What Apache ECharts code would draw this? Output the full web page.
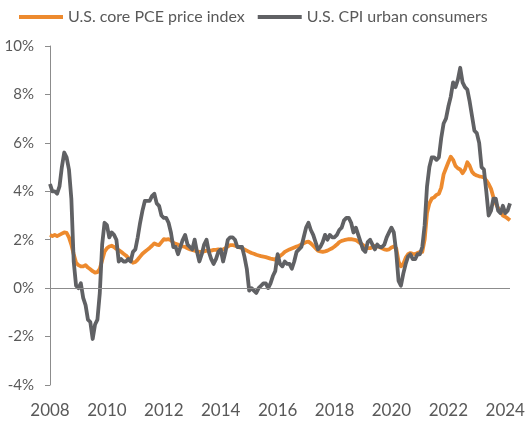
<!DOCTYPE html>
<html>
<head>
<meta charset="utf-8">
<script src="https://cdn.jsdelivr.net/npm/echarts@6/dist/echarts.min.js"></script>
<style>
html,body{margin:0;padding:0;background:#fff;}
#chart{width:531px;height:431px;}
</style>
</head>
<body>
<div id="chart"></div>
<script>
// Monthly, Jan 2008 .. Mar 2024
const startYear = 2008;
const yTicks = ['-4%','-2%','0%','2%','4%','6%','8%','10%'];
const xTickYears = ['2008','2010','2012','2014','2016','2018','2020','2022','2024'];

const corePCE = [
  2.2,2.15,2.2,2.15,2.2,2.25,2.3,2.28,2.1,1.8,1.4,1.05,
  0.95,0.9,0.9,0.95,0.85,0.78,0.7,0.64,0.66,0.8,1.15,1.5,
  1.65,1.72,1.75,1.7,1.62,1.57,1.5,1.42,1.35,1.25,1.15,1.05,
  1.08,1.18,1.3,1.42,1.5,1.58,1.66,1.75,1.85,1.8,1.78,1.9,
  2.02,2.0,2.02,1.98,1.88,1.83,1.8,1.74,1.72,1.7,1.65,1.6,
  1.58,1.55,1.52,1.5,1.5,1.52,1.55,1.55,1.55,1.58,1.58,1.6,
  1.58,1.6,1.65,1.72,1.78,1.78,1.75,1.72,1.68,1.65,1.6,1.55,
  1.5,1.45,1.42,1.38,1.35,1.32,1.3,1.28,1.25,1.22,1.2,1.18,
  1.28,1.33,1.4,1.5,1.55,1.6,1.64,1.68,1.72,1.75,1.8,1.85,
  1.9,1.92,1.85,1.75,1.65,1.55,1.52,1.5,1.52,1.55,1.6,1.65,
  1.72,1.8,1.9,1.95,1.98,2.0,2.02,2.02,2.0,1.98,1.92,1.85,
  1.78,1.7,1.65,1.65,1.7,1.74,1.72,1.7,1.65,1.6,1.58,1.6,
  1.68,1.72,1.65,1.1,0.9,1.0,1.25,1.4,1.45,1.42,1.4,1.45,
  1.5,1.5,2.0,3.1,3.5,3.7,3.75,3.85,3.9,4.15,4.7,4.95,
  5.2,5.43,5.3,5.05,4.95,4.9,4.75,4.9,5.2,5.05,4.8,4.7,
  4.65,4.62,4.6,4.57,4.45,4.3,4.1,3.75,3.5,3.3,3.15,3.0,
  2.95,2.88,2.8
];

const cpi = [
  4.3,4.0,4.0,3.9,4.2,5.0,5.6,5.4,4.9,3.7,1.1,0.1,
  0.0,0.2,-0.4,-0.7,-1.3,-1.4,-2.1,-1.5,-1.3,-0.2,1.8,2.7,
  2.6,2.1,2.3,2.2,2.0,1.1,1.2,1.1,1.1,1.2,1.1,1.5,
  1.6,2.1,2.7,3.2,3.6,3.6,3.6,3.8,3.9,3.5,3.4,3.0,
  2.9,2.9,2.7,2.3,1.7,1.7,1.4,1.7,2.0,2.2,1.8,1.7,
  1.6,2.0,1.5,1.1,1.4,1.8,2.0,1.5,1.2,1.0,1.2,1.5,
  1.6,1.1,1.5,2.0,2.1,2.1,2.0,1.7,1.7,1.7,1.3,0.8,
  -0.1,0.0,-0.1,-0.2,0.0,0.1,0.2,0.2,0.0,0.2,0.5,0.7,
  1.4,1.0,0.9,1.1,1.0,1.0,0.8,1.1,1.5,1.6,1.7,2.1,
  2.5,2.7,2.4,2.2,1.9,1.6,1.7,1.9,2.2,2.0,2.2,2.1,
  2.1,2.2,2.4,2.5,2.8,2.9,2.9,2.7,2.3,2.5,2.2,1.9,
  1.6,1.5,1.9,2.0,1.8,1.6,1.8,1.7,1.7,1.8,2.1,2.3,
  2.5,2.3,1.5,0.3,0.1,0.6,1.0,1.3,1.4,1.2,1.2,1.4,
  1.4,1.7,2.6,4.2,5.0,5.4,5.4,5.3,5.4,6.2,6.8,7.0,
  7.5,7.9,8.5,8.3,8.6,9.1,8.5,8.3,8.2,7.7,7.1,6.5,
  6.4,6.0,5.0,4.9,4.0,3.0,3.2,3.7,3.7,3.2,3.1,3.4,
  3.1,3.2,3.5
];

const months = [];
for (let i = 0; i < cpi.length; i++) {
  const y = startYear + Math.floor(i / 12);
  const m = (i % 12) + 1;
  months.push(y + '-' + (m < 10 ? '0' + m : m));
}

const textColor = '#595959';
const fontFam = 'Lato, "Open Sans", sans-serif';

const chart = echarts.init(document.getElementById('chart'), null, {renderer: 'canvas'});
chart.setOption({
  animation: false,
  backgroundColor: '#fff',
  legend: {
    left: 14, top: 4,
    icon: 'rect',
    itemWidth: 44, itemHeight: 4,
    itemGap: 13,
    textStyle: {color: textColor, fontSize: 16, fontFamily: fontFam},
    data: ['U.S. core PCE price index', 'U.S. CPI urban consumers']
  },
  grid: {left: 50, right: 21, top: 46, bottom: 46, containLabel: false},
  xAxis: {
    type: 'category',
    data: months,
    boundaryGap: false,
    axisLine: {show: false, onZero: false},
    axisTick: {show: false},
    axisLabel: {
      interval: function (idx) { return idx % 24 === 0; },
      formatter: function (v) {
        const y = v.slice(0, 4);
        return xTickYears.indexOf(y) >= 0 ? y : '';
      },
      color: textColor, fontSize: 17, fontFamily: fontFam, margin: 17
    },
    splitLine: {show: false}
  },
  yAxis: {
    type: 'value',
    min: -4, max: 10, interval: 2,
    axisLine: {show: true, lineStyle: {color: '#8c8c8c', width: 1}},
    axisTick: {show: true, length: 5, lineStyle: {color: '#8c8c8c'}},
    axisLabel: {
      formatter: function (v) { return yTicks[Math.round((v + 4) / 2)]; },
      color: textColor, fontSize: 15, fontFamily: fontFam, margin: 16
    },
    splitLine: {show: false}
  },
  series: [
    {
      name: 'U.S. core PCE price index',
      type: 'line',
      data: corePCE,
      showSymbol: false,
      symbol: 'none',
      lineStyle: {color: '#ED8A2E', width: 3.8, join: 'round'},
      itemStyle: {color: '#ED8A2E'},
      z: 2
    },
    {
      name: 'U.S. CPI urban consumers',
      type: 'line',
      data: cpi,
      showSymbol: false,
      symbol: 'none',
      lineStyle: {color: '#606164', width: 3.8, join: 'round'},
      itemStyle: {color: '#606164'},
      z: 3,
      markLine: {
        silent: true,
        symbol: 'none',
        label: {show: false},
        lineStyle: {color: '#8c8c8c', width: 1, type: 'solid'},
        data: [{yAxis: 0}]
      }
    }
  ]
});
</script>
</body>
</html>
